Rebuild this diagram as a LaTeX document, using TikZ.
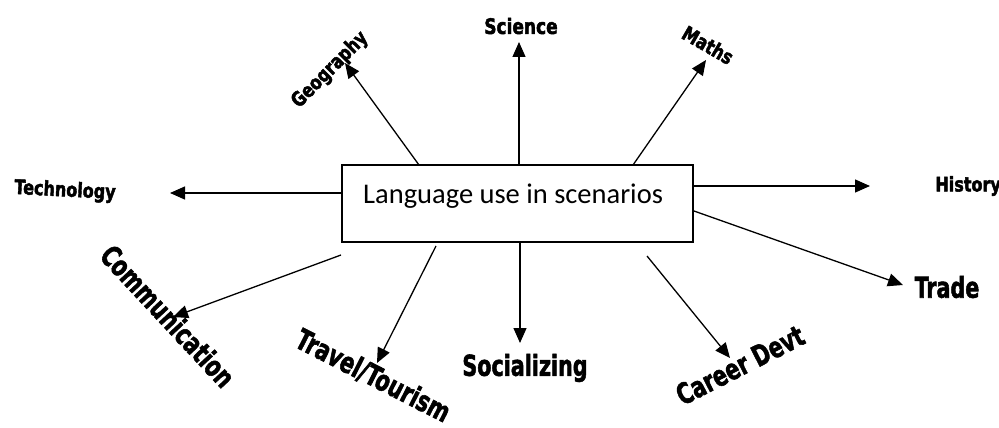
\documentclass[tikz,border=0pt]{standalone}
\usepackage{fontspec}
\usepackage{graphicx}
\usetikzlibrary{arrows.meta, calc}
\setmainfont{Carlito}
\newfontfamily\wideart{DejaVu Sans Bold}[FakeBold=2.5]
\newfontfamily\condart{DejaVu Sans Condensed Bold}[FakeBold=2]
\newcommand{\stretchword}[1]{\scalebox{1}[1.25]{#1}}

\begin{document}
\begin{tikzpicture}[x=1pt, y=-1pt,
  arrow/.style={-{Triangle[length=15pt, width=13pt]}, line width=1.3pt},
  wideword/.style={font=\wideart\fontsize{16}{16}\selectfont, inner sep=0pt},
  tallword/.style={font=\condart\fontsize{23}{23}\selectfont, inner sep=0pt}]
  \useasboundingbox (0,0) rectangle (999,428);

  % Central box with its caption
  \node[draw, line width=1.3pt, minimum width=351pt, minimum height=77pt, inner sep=0pt] (box) at (517.5,203.5) {};
  \node[anchor=base west, inner sep=0pt, font=\fontsize{28.5}{30}\selectfont] (title) at (363,203) {Language use in scenarios};

  % Where the arrows leave the box
  \coordinate (geoS) at (419,165);
  \coordinate (sciS) at (519,165);
  \coordinate (mathS) at (633,165);
  \coordinate (histS) at (693,186);
  \coordinate (techS) at (342,193);
  \coordinate (tradeS) at (694,211);
  \coordinate (commS) at (341,255);
  \coordinate (travS) at (436,246);
  \coordinate (socS) at (520,241);
  \coordinate (carS) at (647,256);

  % Where the arrows end
  \coordinate (geoT) at (345,63);
  \coordinate (sciT) at (519,42);
  \coordinate (mathT) at (706,60);
  \coordinate (histT) at (870,186);
  \coordinate (techT) at (170,193);
  \coordinate (tradeT) at (903,285);
  \coordinate (commT) at (173,317);
  \coordinate (travT) at (377,363);
  \coordinate (socT) at (520,343);
  \coordinate (carT) at (730,358);

  % Subjects above and beside the box
  \node[wideword, rotate=-3] (tech) at (65,191) {\stretchword{Technology}};
  \node[wideword, rotate=45] (geo) at (330,70) {\stretchword{Geography}};
  \node[wideword, font=\wideart\fontsize{17}{17}\selectfont] (sci) at (521,26) {\stretchword{Science}};
  \node[wideword, rotate=-30] (maths) at (708,45) {\stretchword{Maths}};
  \node[wideword, anchor=east] (hist) at (1001,186) {\stretchword{History}};

  % Scenarios below the box
  \node[tallword, rotate=-47] (comm) at (168,316) {\stretchword{Communication}};
  \node[tallword, rotate=-27] (trav) at (373,376) {\stretchword{Travel/Tourism}};
  \node[tallword] (soc) at (525,368) {\stretchword{Socializing}};
  \node[tallword, rotate=27] (car) at (740,365) {\stretchword{Career Devt}};
  \node[tallword] (trade) at (947,287) {\stretchword{Trade}};

  % Arrows from the box
  \draw[arrow] (geoS) -- (geoT);
  \draw[arrow] (sciS) -- (sciT);
  \draw[arrow] (mathS) -- (mathT);
  \draw[arrow] (histS) -- (histT);
  \draw[arrow] (techS) -- (techT);
  \draw[arrow] (tradeS) -- (tradeT);
  \draw[arrow] (commS) -- (commT);
  \draw[arrow] (travS) -- (travT);
  \draw[arrow] (socS) -- (socT);
  \draw[arrow] (carS) -- (carT);

\end{tikzpicture}
\end{document}
